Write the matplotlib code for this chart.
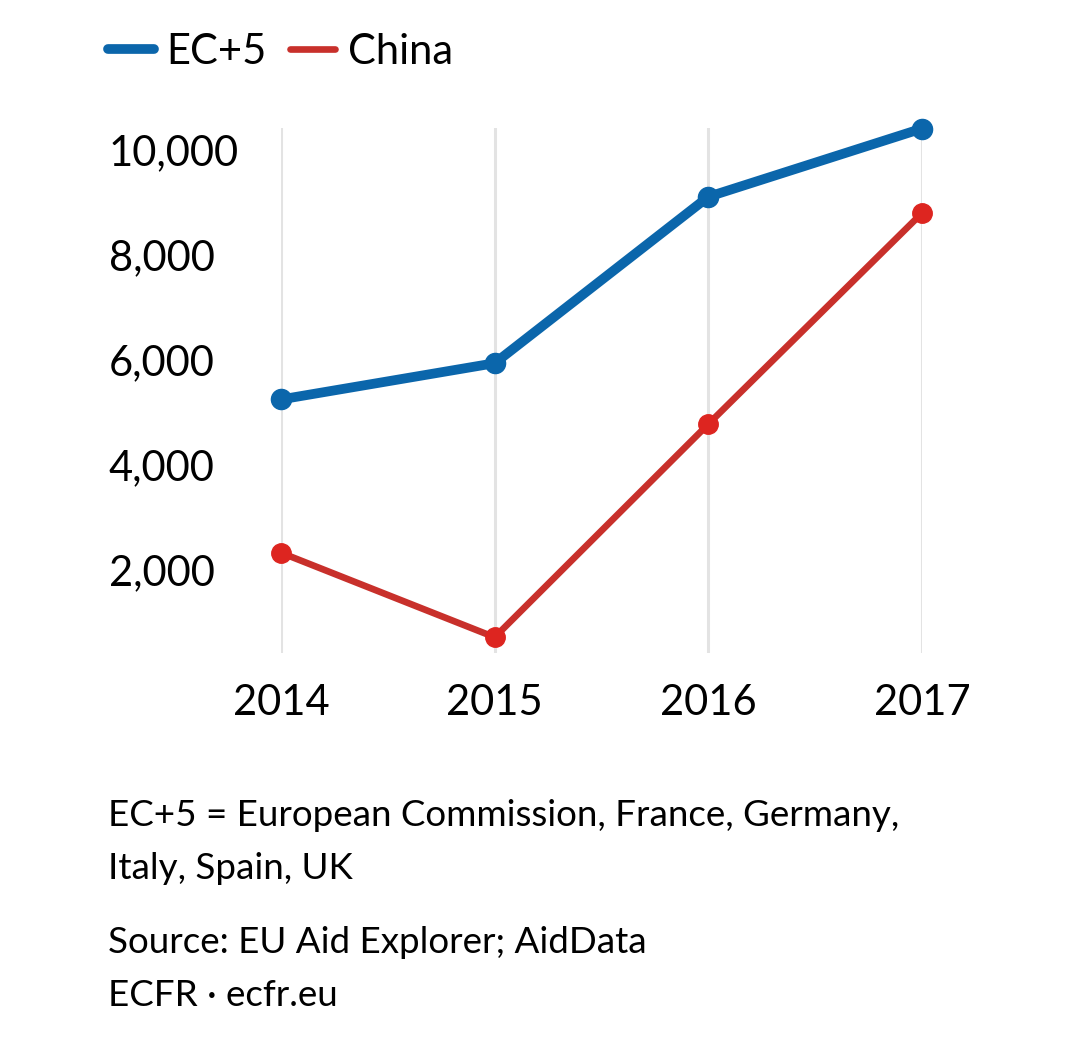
import matplotlib
matplotlib.use('Agg')
import matplotlib.pyplot as plt
from matplotlib.ticker import FuncFormatter

plt.rcParams['font.family'] = ['Lato', 'DejaVu Sans']

years = [2014, 2015, 2016, 2017]
ec5 = [5250, 5940, 9110, 10410]
china = [2330, 720, 4780, 8800]
yticks = [2000, 4000, 6000, 8000, 10000]

blue = '#0b66ab'
red_line = '#c8302b'
red_dot = '#dd2520'

fig = plt.figure(figsize=(10.8, 10.48), dpi=100)
ax = fig.add_axes([281 / 1080, 1 - 653 / 1048, 641 / 1080, 525 / 1048])

ax.plot(years, ec5, color=blue, lw=7, marker='o', ms=14.5,
        solid_capstyle='round', clip_on=False, zorder=3, label='EC+5')
ax.plot(years, china, color=red_line, lw=4.8, marker='o', ms=14,
        mfc=red_dot, mec=red_dot, solid_capstyle='round', clip_on=False,
        zorder=3, label='China')

ax.set_xlim(2014, 2017)
ax.set_ylim(420, 10420)
ax.set_xticks(years)
ax.set_yticks(yticks)
ax.yaxis.set_major_formatter(FuncFormatter(lambda v, p: f'{int(v):,}'))

ax.grid(axis='x', color='#e3e3e3', lw=2.2)
ax.grid(axis='y', visible=False)
ax.set_axisbelow(True)
for s in ax.spines.values():
    s.set_visible(False)
ax.tick_params(axis='both', length=0, labelsize=30, colors='black')
ax.tick_params(axis='x', pad=22)
ax.tick_params(axis='y', pad=124)
for lab in ax.get_yticklabels():
    lab.set_horizontalalignment('left')

leg = fig.legend(loc='upper left', bbox_to_anchor=(108 / 1080, 1 - 33 / 1048),
                 ncol=2, frameon=False, fontsize=30, borderpad=0,
                 borderaxespad=0, handlelength=1.1, handletextpad=0.3,
                 columnspacing=0.55)
for h in leg.get_lines():
    h.set_marker('')
    h.set_solid_capstyle('round')

notes = ['EC+5 = European Commission, France, Germany,', 'Italy, Spain, UK',
         'Source: EU Aid Explorer; AidData', 'ECFR \u00b7 ecfr.eu']
baselines = [826, 879, 953, 1006]
for txt, b in zip(notes, baselines):
    fig.text(108 / 1080, 1 - b / 1048, txt, fontsize=26.5, va='baseline',
             ha='left', color='black')

fig.savefig('out.png', dpi=100)
